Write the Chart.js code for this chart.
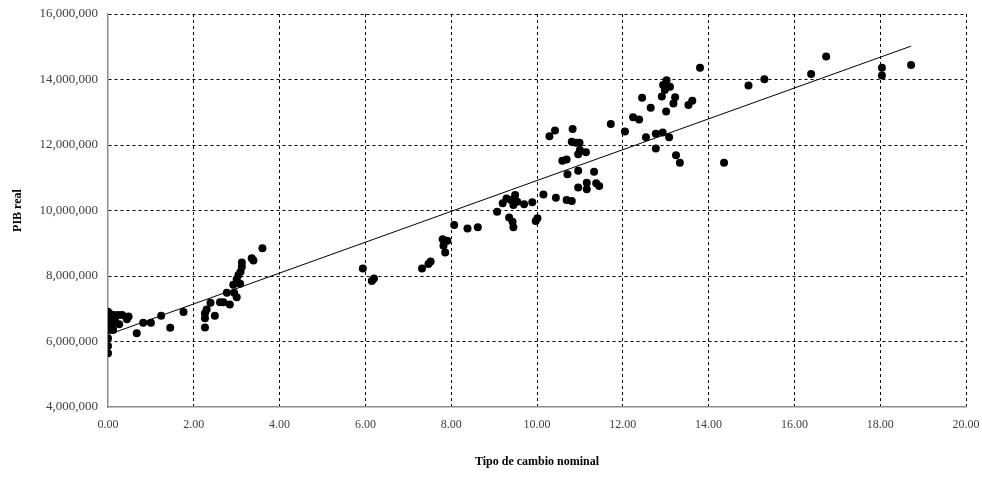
<!DOCTYPE html>
<html>
<head>
<meta charset="utf-8">
<script src="https://cdn.jsdelivr.net/npm/chart.js@4/dist/chart.umd.min.js"></script>
<style>
  html, body { margin: 0; padding: 0; background: #ffffff; }
  #wrap { width: 982px; height: 480px; }
</style>
</head>
<body>
<div id="wrap"><canvas id="c" width="982" height="480"></canvas></div>
<script>
// Tipo de cambio nominal (x)
const tipoCambio = [
  0.00, 0.00, 0.00, 0.00, 0.00, 0.00, 0.00, 0.00, 0.04, 0.04,
  0.09, 0.12, 0.14, 0.16, 0.14, 0.24, 0.26, 0.33, 0.44, 0.48,
  0.67, 0.82, 1.00, 1.24, 1.45, 1.76,
  2.26, 2.26, 2.26, 2.30, 2.49, 2.39, 2.61, 2.69, 2.84, 2.77,
  2.94, 3.00, 2.92, 3.00, 3.08, 3.04, 3.09, 3.12, 3.12, 3.35,
  3.39, 3.60,
  5.94, 6.15, 6.20, 7.32, 7.47, 7.52, 7.80, 7.91, 7.82, 7.86,
  8.07, 8.38, 8.62, 9.07,
  9.20, 9.29, 9.39, 9.49, 9.45, 9.54, 9.35, 9.43, 9.45, 9.70,
  9.89, 10.01, 9.97, 10.15, 10.44, 10.69, 10.81, 10.96, 11.16, 11.16,
  11.38, 11.45, 10.71, 10.96, 11.33, 10.59, 10.69, 10.96, 11.14, 11.00,
  10.81, 10.91, 10.99, 10.29, 10.42, 10.83, 11.72, 12.05, 12.24, 12.38,
  12.65, 12.45, 13.01, 12.54, 12.77, 12.93, 13.08, 12.77, 13.24, 13.33,
  14.36, 13.80, 13.02, 12.94, 13.10, 12.98, 12.91, 13.22, 13.18, 13.62,
  13.53, 14.93, 15.30, 16.39, 16.74, 18.04, 18.04, 18.72
];
// PIB real (y)
const pibReal = [
  5640000, 5860000, 6100000, 6350000, 6500000, 6660000, 6800000, 6910000, 6850000, 6400000,
  6450000, 6350000, 6600000, 6660000, 6810000, 6810000, 6530000, 6810000, 6680000, 6760000,
  6250000, 6570000, 6570000, 6790000, 6420000, 6900000,
  6860000, 6710000, 6430000, 6980000, 6790000, 7180000, 7200000, 7200000, 7130000, 7490000,
  7490000, 7350000, 7730000, 7900000, 7760000, 8030000, 8130000, 8280000, 8410000, 8540000,
  8470000, 8850000,
  8230000, 7850000, 7920000, 8230000, 8370000, 8440000, 9120000, 9080000, 8920000, 8720000,
  9560000, 9450000, 9490000, 9960000,
  10220000, 10370000, 10320000, 10470000, 10170000, 10270000, 9790000, 9660000, 9490000, 10190000,
  10250000, 9760000, 9680000, 10490000, 10390000, 10320000, 10290000, 10700000, 10850000, 10650000,
  10830000, 10750000, 11110000, 11210000, 11180000, 11520000, 11560000, 11720000, 11780000, 11850000,
  12100000, 12070000, 12070000, 12270000, 12440000, 12490000, 12640000, 12410000, 12850000, 12780000,
  13140000, 13440000, 13020000, 12240000, 12340000, 12380000, 12240000, 11890000, 11690000, 11460000,
  11460000, 14360000, 13980000, 13830000, 13780000, 13680000, 13480000, 13460000, 13270000, 13350000,
  13220000, 13820000, 14010000, 14170000, 14700000, 14360000, 14120000, 14440000
];
// Trend line end points
const trendX = [0.05, 18.72];
const trendY = [6230000, 15020000];
// Tick settings
const xTicks = { min: 0, max: 20, step: 2 };
const yTicks = { min: 4000000, max: 16000000, step: 2000000 };

const points = tipoCambio.map((x, i) => ({ x: x, y: pibReal[i] }));
const trend = trendX.map((x, i) => ({ x: x, y: trendY[i] }));

const serif = "'Liberation Serif', 'Times New Roman', serif";

new Chart(document.getElementById('c'), {
  type: 'scatter',
  data: {
    datasets: [
      {
        label: 'Datos',
        data: points,
        backgroundColor: '#000000',
        borderColor: '#000000',
        borderWidth: 0,
        pointRadius: 4,
        pointHoverRadius: 4,
        order: 1
      },
      {
        label: 'Tendencia',
        type: 'line',
        data: trend,
        showLine: true,
        borderColor: '#000000',
        borderWidth: 1,
        pointRadius: 0,
        fill: false,
        order: 2
      }
    ]
  },
  options: {
    responsive: false,
    animation: false,
    devicePixelRatio: 1,
    layout: { padding: { left: 0, top: 14, right: 16, bottom: 0 } },
    plugins: { legend: { display: false }, tooltip: { enabled: false } },
    scales: {
      x: {
        type: 'linear',
        min: xTicks.min,
        max: xTicks.max,
        ticks: {
          stepSize: xTicks.step,
          padding: 0,
          color: '#404040',
          font: { family: serif, size: 12 },
          callback: v => Number(v).toFixed(2),
          maxRotation: 0
        },
        grid: {
          color: ctx => (ctx.tick && ctx.tick.value === xTicks.min) ? 'rgba(0,0,0,0)' : '#000000',
          lineWidth: 1,
          drawTicks: true,
          tickLength: 11,
          tickColor: 'rgba(0,0,0,0)'
        },
        border: { display: true, color: '#8c8c8c', width: 1.5, dash: [3, 3] },
        title: {
          display: true,
          text: 'Tipo de cambio nominal',
          color: '#000000',
          font: { family: serif, size: 12, weight: 'bold' },
          padding: { top: 4, bottom: 11 }
        },
        afterFit: s => { s.height = 73; }
      },
      y: {
        type: 'linear',
        min: yTicks.min,
        max: yTicks.max,
        ticks: {
          stepSize: yTicks.step,
          padding: 0,
          color: '#404040',
          font: { family: serif, size: 13 },
          callback: v => Number(v).toLocaleString('en-US')
        },
        grid: {
          color: ctx => (ctx.tick && ctx.tick.value === yTicks.min) ? 'rgba(0,0,0,0)' : '#000000',
          lineWidth: 1,
          drawTicks: true,
          tickLength: 10,
          tickColor: 'rgba(0,0,0,0)'
        },
        border: { display: true, color: '#8c8c8c', width: 1.5, dash: [3, 3] },
        title: {
          display: true,
          text: 'PIB real',
          color: '#000000',
          font: { family: serif, size: 12, weight: 'bold' },
          padding: { top: 11, bottom: 4 }
        },
        afterFit: s => { s.width = 108; }
      }
    }
  }
});
</script>
</body>
</html>
